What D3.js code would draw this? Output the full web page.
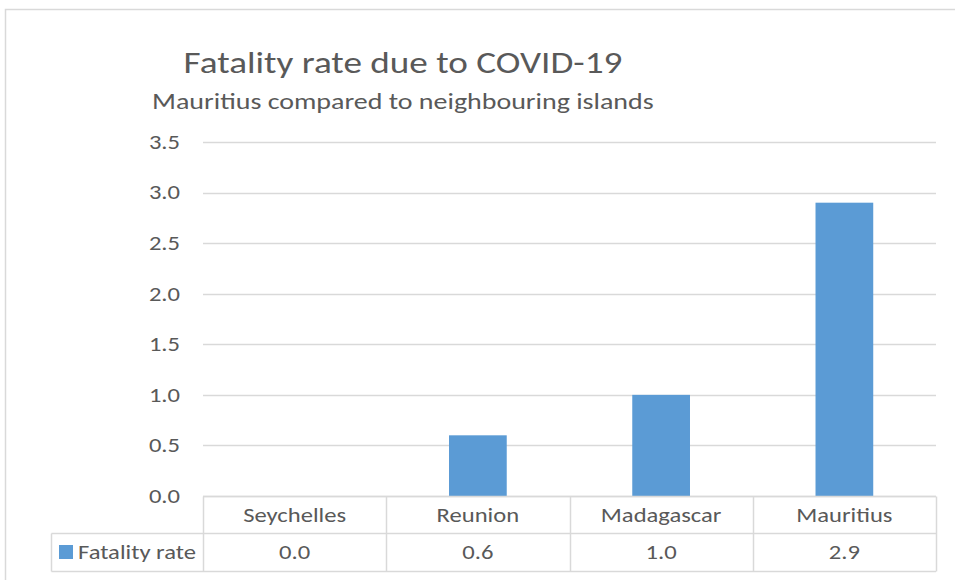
<!DOCTYPE html>
<html><head><meta charset="utf-8">
<script src="https://cdn.jsdelivr.net/npm/d3@7"></script>
<style>html,body{margin:0;padding:0;background:#fff;}svg{display:block;}</style>
</head><body>
<script>
const categories = ["Seychelles", "Reunion", "Madagascar", "Mauritius"];
const values = [0.0, 0.6, 1.0, 2.9];
const seriesName = "Fatality rate";
const yTicks = [0, 0.5, 1.0, 1.5, 2.0, 2.5, 3.0, 3.5];
const titleText = "Fatality rate due to COVID-19";
const subtitleText = "Mauritius compared to neighbouring islands";

const W = 955, H = 580;
const FONT = "Carlito, Lato, 'Open Sans', sans-serif";
const TXT = "#595959", GRID = "#d9d9d9", BAR = "#5b9bd5";
const K = 1.23; // horizontal stretch of small labels
const FS = 20;

function stretch(sel, k) {
  sel.each(function () {
    const t = d3.select(this);
    const X = +t.attr("x") || 0;
    t.attr("transform", `translate(${X},0) scale(${k},1) translate(${-X},0)`);
  });
}
function fitWidth(sel, w) {
  sel.each(function () {
    const len = this.getComputedTextLength();
    stretch(d3.select(this), w / len);
  });
}

const svg = d3.select("body").append("svg").attr("width", W).attr("height", H);
svg.append("rect").attr("x", 5.5).attr("y", 9.5).attr("width", W + 10).attr("height", H + 10)
  .attr("fill", "#fff").attr("stroke", "#d9d9d9").attr("stroke-width", 1.5);

const plot = {left: 203, right: 936, top: 142, bottom: 496};
const x = d3.scaleBand().domain(categories).range([plot.left, plot.right]).paddingInner(0.685).paddingOuter(0.3425);
const xc = d3.scaleBand().domain(categories).range([plot.left, plot.right]);
const y = d3.scaleLinear().domain([0, 3.5]).range([plot.bottom, plot.top]);

// grid
svg.append("g").selectAll("line").data(yTicks).join("line")
  .attr("x1", plot.left).attr("x2", plot.right)
  .attr("y1", d => Math.round(y(d)) + 0.5).attr("y2", d => Math.round(y(d)) + 0.5)
  .attr("stroke", GRID).attr("stroke-width", 1.3);

// y axis labels
const yAxis = d3.axisLeft(y).tickValues(yTicks).tickFormat(d3.format(".1f")).tickSize(0).tickPadding(23);
const ya = svg.append("g").attr("transform", `translate(${plot.left},0)`).call(yAxis);
ya.select(".domain").remove();
ya.selectAll("text").attr("font-family", FONT).attr("font-size", FS).attr("fill", TXT);
stretch(ya.selectAll("text"), K);

// bars
svg.append("g").selectAll("rect").data(values).join("rect")
  .attr("x", (d, i) => x(categories[i])).attr("width", x.bandwidth())
  .attr("y", d => y(d)).attr("height", d => y(0) - y(d))
  .attr("fill", BAR);

// data table
const tableLeft = 51.5, rowTop = 496.5, rowMid = 533.5, rowBot = 571.5;
const tg = svg.append("g").attr("stroke", GRID).attr("stroke-width", 1.5).attr("fill", "none");
tg.append("line").attr("x1", plot.left).attr("x2", plot.right).attr("y1", rowTop).attr("y2", rowTop);
tg.append("line").attr("x1", tableLeft).attr("x2", plot.right).attr("y1", rowMid).attr("y2", rowMid);
tg.append("line").attr("x1", tableLeft).attr("x2", plot.right).attr("y1", rowBot).attr("y2", rowBot);
tg.append("line").attr("x1", tableLeft).attr("x2", tableLeft).attr("y1", rowMid).attr("y2", rowBot);
const vlines = categories.map(c => xc(c)).concat([plot.right]);
tg.selectAll("line.v").data(vlines).join("line").attr("class", "v")
  .attr("x1", d => Math.round(d) + 0.5).attr("x2", d => Math.round(d) + 0.5)
  .attr("y1", rowTop).attr("y2", rowBot);

const catText = svg.append("g").selectAll("text").data(categories).join("text")
  .attr("x", d => xc(d) + xc.bandwidth() / 2).attr("y", 522)
  .attr("text-anchor", "middle").attr("font-family", FONT).attr("font-size", FS).attr("fill", TXT)
  .text(d => d);
stretch(catText, K);
const valText = svg.append("g").selectAll("text").data(values).join("text")
  .attr("x", (d, i) => xc(categories[i]) + xc.bandwidth() / 2).attr("y", 559)
  .attr("text-anchor", "middle").attr("font-family", FONT).attr("font-size", FS).attr("fill", TXT)
  .text(d => d3.format(".1f")(d));
stretch(valText, K);
svg.append("rect").attr("x", 59).attr("y", 545).attr("width", 14).attr("height", 14).attr("fill", BAR);
const leg = svg.append("text").attr("x", 78).attr("y", 559).attr("font-family", FONT).attr("font-size", FS).attr("fill", TXT).text(seriesName);
stretch(leg, K);

// titles
const title = svg.append("text").attr("x", 403).attr("y", 73).attr("text-anchor", "middle")
  .attr("font-family", FONT).attr("font-size", 31).attr("fill", TXT).text(titleText);
fitWidth(title, 439);
const sub = svg.append("text").attr("x", 152).attr("y", 109)
  .attr("font-family", FONT).attr("font-size", 23).attr("fill", TXT).text(subtitleText);
fitWidth(sub, 502);
</script>
</body></html>
